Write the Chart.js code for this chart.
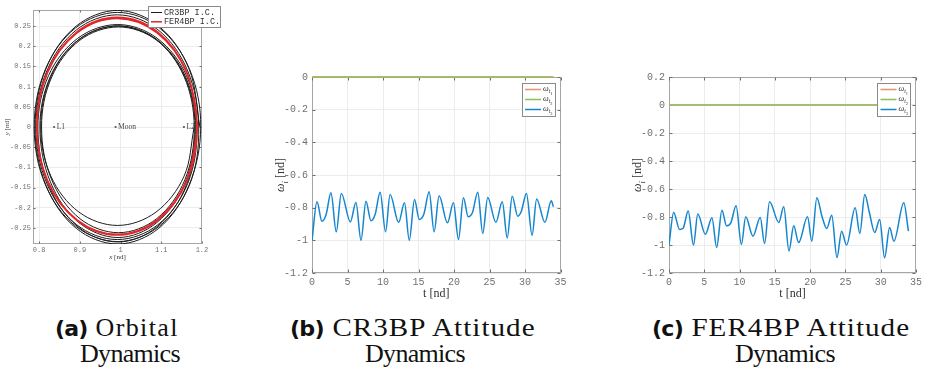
<!DOCTYPE html>
<html>
<head>
<meta charset="utf-8">
<script src="https://cdn.jsdelivr.net/npm/chart.js@4.4.0/dist/chart.umd.min.js"></script>
<style>
  body { margin: 0; background: #fff; width: 925px; height: 377px; position: relative; overflow: hidden; }
  canvas { position: absolute; }
  .cap { position: absolute; font-family: "Liberation Serif", serif; font-size: 26px; color: #111; white-space: nowrap; letter-spacing: 1.4px; transform-origin: left top; }
  .cap.wide { letter-spacing: 0.9px; transform: scaleX(1.12); }
  .cap.l2 { letter-spacing: -0.7px; }
  .cap b { font-family: "DejaVu Sans", sans-serif; font-weight: bold; font-size: 22px; letter-spacing: -0.8px; }
  .cap.wide b { display: inline-block; transform: scaleX(0.9); transform-origin: left center; margin-right: -3px; }
</style>
</head>
<body>
<canvas id="orbit" width="225" height="265" style="left:0;top:0"></canvas>
<canvas id="cr3bp" width="330" height="250" style="left:240px;top:60px"></canvas>
<canvas id="fer4bp" width="325" height="250" style="left:600px;top:60px"></canvas>

<div class="cap" style="left:55px;top:313px"><b>(a)</b> Orbital</div>
<div class="cap l2" style="left:80px;top:339px">Dynamics</div>
<div class="cap wide" style="left:290px;top:313px"><b>(b)</b> CR3BP Attitude</div>
<div class="cap l2" style="left:365px;top:339px">Dynamics</div>
<div class="cap wide" style="left:652px;top:313px"><b>(c)</b> FER4BP Attitude</div>
<div class="cap l2" style="left:735px;top:339px">Dynamics</div>

<script>
// --- orbit (x-y projection), one point every 30 deg, loops chained ---
const cr3bpX = [
  1.195, 1.168, 1.094, 0.993, 0.891, 0.817, 0.790, 0.817, 0.891, 0.993, 1.094, 1.168,
  1.197, 1.170, 1.095, 0.993, 0.890, 0.815, 0.788, 0.815, 0.890, 0.993, 1.095, 1.170,
  1.192, 1.165, 1.092, 0.992, 0.892, 0.819, 0.792, 0.819, 0.892, 0.992, 1.092, 1.165,
  1.188, 1.162, 1.090, 0.993, 0.895, 0.823, 0.797, 0.823, 0.895, 0.993, 1.090, 1.162,
  1.185, 1.159, 1.089, 0.994, 0.898, 0.828, 0.802, 0.828, 0.898, 0.994, 1.089, 1.159,
  1.183, 1.158, 1.089, 0.995, 0.900, 0.831, 0.806, 0.831, 0.900, 0.995, 1.089, 1.158,
  1.181, 1.156, 1.087, 0.993, 0.898, 0.829, 0.804, 0.829, 0.898, 0.993, 1.087, 1.156,
  1.181
];
const cr3bpY = [
  0, 0.145, 0.250, 0.289, 0.250, 0.145, 0, -0.145, -0.251, -0.290, -0.251, -0.145,
  0, 0.142, 0.246, 0.284, 0.246, 0.142, 0, -0.142, -0.246, -0.284, -0.246, -0.142,
  0, 0.139, 0.241, 0.278, 0.241, 0.139, 0, -0.140, -0.242, -0.279, -0.242, -0.140,
  0, 0.127, 0.220, 0.254, 0.220, 0.127, 0, -0.143, -0.247, -0.285, -0.247, -0.143,
  0, 0.126, 0.217, 0.251, 0.217, 0.126, 0, -0.137, -0.237, -0.274, -0.237, -0.137,
  0, 0.124, 0.215, 0.248, 0.215, 0.124, 0, -0.131, -0.227, -0.262, -0.227, -0.131,
  0, 0.125, 0.217, 0.250, 0.217, 0.125, 0, -0.122, -0.211, -0.244, -0.211, -0.122,
  0
];
const fer4bpX = [
  1.190, 1.163, 1.091, 0.992, 0.893, 0.820, 0.794, 0.820, 0.893, 0.992, 1.091, 1.163,
  1.188, 1.162, 1.090, 0.992, 0.893, 0.821, 0.795, 0.821, 0.893, 0.992, 1.090, 1.162,
  1.190
];
const fer4bpY = [
  0, 0.136, 0.236, 0.272, 0.236, 0.136, 0, -0.134, -0.232, -0.268, -0.232, -0.134,
  0, 0.135, 0.233, 0.269, 0.233, 0.135, 0, -0.133, -0.230, -0.266, -0.230, -0.133,
  0
];
const pointNames = ['L1', 'Moon', 'L2'];
const pointX = [0.8369, 0.98785, 1.1557];
const pointY = [0, 0, 0];

// --- angular rates ---
const tFlat = [0, 34];
const omegaZero = [0, 0];

const tB = [0, 0.7, 1.4, 2.0, 2.67, 3.42, 4.13, 5.4, 6.19, 6.9, 7.6, 8.3, 8.9, 9.6, 10.36, 11.0,
  12.2, 13.03, 13.7, 14.44, 15.1, 15.75, 16.5, 17.2, 17.9, 19.08, 19.92, 20.63, 21.33, 22.0, 22.6,
  23.35, 24.05, 24.75, 25.9, 26.8, 27.5, 28.2, 28.97, 29.5, 30.2, 31.0, 31.64, 32.8, 33.7, 34.0];
const w3B = [-1.0, -0.764, -0.883, -0.84, -0.709, -0.948, -0.713, -0.887, -0.768, -1.0, -0.76, -0.88,
  -0.84, -0.705, -0.948, -0.72, -0.89, -0.77, -1.0, -0.75, -0.872, -0.84, -0.702, -0.948, -0.727,
  -0.893, -0.77, -0.995, -0.74, -0.856, -0.83, -0.705, -0.958, -0.737, -0.89, -0.764, -0.985, -0.73,
  -0.852, -0.82, -0.713, -0.969, -0.747, -0.89, -0.758, -0.795];

const tC = [0, 0.66, 1.5, 2.0, 2.72, 3.47, 4.08, 5.15, 6.09, 6.75, 7.5, 8.15, 8.76, 9.51, 10.26,
  10.87, 11.9, 12.93, 13.54, 14.25, 15.56, 16.26, 17.0, 17.67, 18.37, 19.63, 20.24, 20.95, 21.7,
  22.35, 23.06, 23.8, 24.46, 25.16, 26.38, 27.04, 27.74, 28.4, 29.15, 29.85, 30.55, 31.26, 31.87,
  33.27, 33.93];
const w3C = [-1.0, -0.767, -0.889, -0.88, -0.758, -1.0, -0.779, -0.923, -0.806, -1.018, -0.751,
  -0.863, -0.842, -0.72, -0.997, -0.799, -0.937, -0.803, -0.99, -0.691, -0.839, -0.727, -1.042,
  -0.863, -0.983, -0.799, -0.973, -0.662, -0.8, -0.882, -0.787, -1.09, -0.901, -1.0, -0.734, -0.918,
  -0.639, -0.77, -0.911, -0.818, -1.092, -0.875, -0.973, -0.698, -0.901];

const serif = '"Liberation Serif", serif';
const mono = '"Liberation Mono", monospace';
const orange = '#e59873', green = '#8fc163', blue = '#1486cf';

const zip = (xs, ys) => xs.map((x, i) => ({ x, y: ys[i] }));

// text runs: [text, level (0 normal, 1 sub, 2 subsub), italic]
function richText(ctx, parts, x, y, size, center) {
  const scale = [1, 0.72, 0.55], drop = [0, 0.28, 0.48];
  const fontOf = p => `${p[2] ? 'italic ' : ''}${size * scale[p[1]]}px ${serif}`;
  let w = 0;
  parts.forEach(p => { ctx.font = fontOf(p); w += ctx.measureText(p[0]).width; });
  let cx = center ? x - w / 2 : x;
  const base = y + size * 0.33;
  parts.forEach(p => {
    ctx.font = fontOf(p);
    ctx.fillText(p[0], cx, base + size * drop[p[1]]);
    cx += ctx.measureText(p[0]).width;
  });
}

// MATLAB-style box, inward ticks, axis titles and legend
const matlabAxes = {
  id: 'matlabAxes',
  beforeDatasetsDraw(chart, args, o) {
    const { ctx, chartArea: a, scales } = chart;
    const L = Math.round(a.left) + 0.5, R = Math.round(a.right) - 0.5;
    const T = Math.round(a.top) + 0.5, B = Math.round(a.bottom) - 0.5;
    ctx.save();
    ctx.strokeStyle = '#a6a6a6';
    ctx.lineWidth = 1;
    ctx.strokeRect(L, T, R - L, B - T);
    ctx.strokeStyle = '#6e6e6e';
    ctx.beginPath();
    scales.x.ticks.forEach(t => {
      const px = Math.round(scales.x.getPixelForValue(t.value)) + 0.5;
      ctx.moveTo(px, B); ctx.lineTo(px, B - o.tick);
      ctx.moveTo(px, T); ctx.lineTo(px, T + o.tick);
    });
    scales.y.ticks.forEach(t => {
      const py = Math.round(scales.y.getPixelForValue(t.value)) + 0.5;
      ctx.moveTo(L, py); ctx.lineTo(L + o.tick, py);
      ctx.moveTo(R, py); ctx.lineTo(R - o.tick, py);
    });
    ctx.stroke();
    ctx.restore();
  },
  afterDatasetsDraw(chart, args, o) {
    const { ctx, chartArea: a } = chart;
    ctx.save();
    ctx.fillStyle = '#333';
    richText(ctx, o.xTitle, (a.left + a.right) / 2, a.bottom + o.xTitleOffset, o.titleSize, true);
    ctx.translate(a.left - o.yTitleOffset, (a.top + a.bottom) / 2);
    ctx.rotate(-Math.PI / 2);
    richText(ctx, o.yTitle, 0, 0, o.titleSize, true);
    ctx.restore();

    // named points
    chart.data.datasets.forEach((ds, i) => {
      if (!ds.names) return;
      const meta = chart.getDatasetMeta(i);
      ctx.save();
      ctx.fillStyle = '#444';
      ctx.font = `${o.pointFont}px ${serif}`;
      meta.data.forEach((pt, j) => ctx.fillText(ds.names[j], pt.x + 2.5, pt.y + 1.5));
      ctx.restore();
    });

    // legend
    const lg = o.legend;
    const items = chart.data.datasets.filter(ds => ds.legendParts);
    const x0 = lg.right ? a.right - lg.right - lg.w : lg.x;
    const y0 = lg.right ? a.top + lg.top : lg.y;
    ctx.save();
    ctx.fillStyle = '#fff';
    ctx.fillRect(x0, y0, lg.w, lg.h);
    ctx.strokeStyle = '#8a8a8a';
    ctx.lineWidth = 1;
    ctx.strokeRect(Math.round(x0) + 0.5, Math.round(y0) + 0.5, Math.round(lg.w), Math.round(lg.h));
    items.forEach((ds, k) => {
      const yy = y0 + lg.first + k * lg.row;
      ctx.strokeStyle = ds.borderColor;
      ctx.lineWidth = ds.borderWidth;
      ctx.beginPath();
      ctx.moveTo(x0 + 3, yy); ctx.lineTo(x0 + 3 + lg.line, yy);
      ctx.stroke();
      ctx.fillStyle = '#333';
      if (lg.mono) {
        ctx.font = `${lg.size}px ${mono}`;
        ctx.textBaseline = 'middle';
        ctx.fillText(ds.legendParts, x0 + lg.line + 5, yy);
        ctx.textBaseline = 'alphabetic';
      } else {
        richText(ctx, ds.legendParts, x0 + lg.line + 5, yy - 1, lg.size, false);
      }
    });
    ctx.restore();
  }
};

function axis(min, max, step, size, pad, fit) {
  return {
    type: 'linear', min, max,
    ticks: {
      stepSize: step, includeBounds: false, autoSkip: false, maxRotation: 0,
      font: { family: mono, size }, color: '#707070', padding: pad,
      callback: v => String(+v.toFixed(2))
    },
    grid: { color: '#ececec', drawTicks: false },
    border: { display: false },
    afterFit: fit
  };
}

const base = {
  animation: false,
  responsive: false,
  devicePixelRatio: 1,
  plugins: { legend: { display: false }, tooltip: { enabled: false } }
};

// orbital dynamics (lower order is drawn on top)
new Chart(document.getElementById('orbit'), {
  type: 'scatter',
  data: {
    datasets: [
      { data: zip(cr3bpX, cr3bpY), showLine: true, borderColor: '#1c1c1c', borderWidth: 1,
        tension: 0.35, pointRadius: 0, order: 2, legendParts: 'CR3BP I.C.' },
      { data: zip(fer4bpX, fer4bpY), showLine: true, borderColor: '#e3262a', borderWidth: 1.5,
        tension: 0.35, pointRadius: 0, order: 1, legendParts: 'FER4BP I.C.' },
      { data: zip(pointX, pointY), names: pointNames, pointRadius: 1.1, order: 0,
        pointBackgroundColor: '#555', pointBorderWidth: 0 }
    ]
  },
  options: {
    ...base,
    layout: { padding: { left: 0, top: 10, right: 23, bottom: 0 } },
    elements: { line: { capBezierPoints: false } },
    scales: {
      x: axis(0.785, 1.2001, 0.1, 7, 2, s => { s.height = 21; }),
      y: axis(-0.29, 0.29, 0.05, 7, 2, s => { s.width = 33; })
    },
    plugins: {
      ...base.plugins,
      matlabAxes: {
        tick: 2,
        titleSize: 7,
        xTitle: [['x', 0, true], [' [nd]', 0, false]], xTitleOffset: 13,
        yTitle: [['y', 0, true], [' [nd]', 0, false]], yTitleOffset: 26,
        pointFont: 7.5,
        legend: { x: 148, y: 6, w: 72, h: 21, first: 6.5, row: 9.3, line: 11, size: 8.5, mono: true }
      }
    }
  },
  plugins: [matlabAxes]
});

// attitude rates, one panel per model
function ratePanel(id, t3, w3, yMin, yMax, rightPad, yWidth) {
  const sub = n => [['ω', 0, true], ['t', 1, true], [n, 2, false]];
  new Chart(document.getElementById(id), {
    type: 'scatter',
    data: {
      datasets: [
        { data: zip(tFlat, omegaZero), showLine: true, borderColor: orange, borderWidth: 1.6,
          pointRadius: 0, clip: 4, order: 2, legendParts: sub('1') },
        { data: zip(tFlat, omegaZero), showLine: true, borderColor: green, borderWidth: 1.6,
          pointRadius: 0, clip: 4, order: 1, legendParts: sub('2') },
        { data: zip(t3, w3), showLine: true, borderColor: blue, borderWidth: 1.5, order: 0,
          pointRadius: 0, cubicInterpolationMode: 'monotone', legendParts: sub('3') }
      ]
    },
    options: {
      ...base,
      layout: { padding: { left: 0, top: 17, right: rightPad, bottom: 0 } },
      scales: {
        x: axis(0, 35, 5, 10, 3, s => { s.height = 37; }),
        y: axis(yMin, yMax, 0.2, 10, 4, s => { s.width = yWidth; })
      },
      plugins: {
        ...base.plugins,
        matlabAxes: {
          tick: 3,
          titleSize: 12,
          xTitle: [['t', 0, false], [' [nd]', 0, false]], xTitleOffset: 20,
          yTitle: [['ω', 0, true], ['i', 1, true], [' [nd]', 0, false]], yTitleOffset: 31.5,
          legend: { right: 5.5, top: 5.5, w: 33, h: 33, first: 7, row: 10, line: 16, size: 8 }
        }
      }
    },
    plugins: [matlabAxes]
  });
}

ratePanel('cr3bp', tB, w3B, -1.2, 0, 9.5, 72);
ratePanel('fer4bp', tC, w3C, -1.2, 0.2, 6.5, 69);
</script>
</body>
</html>
